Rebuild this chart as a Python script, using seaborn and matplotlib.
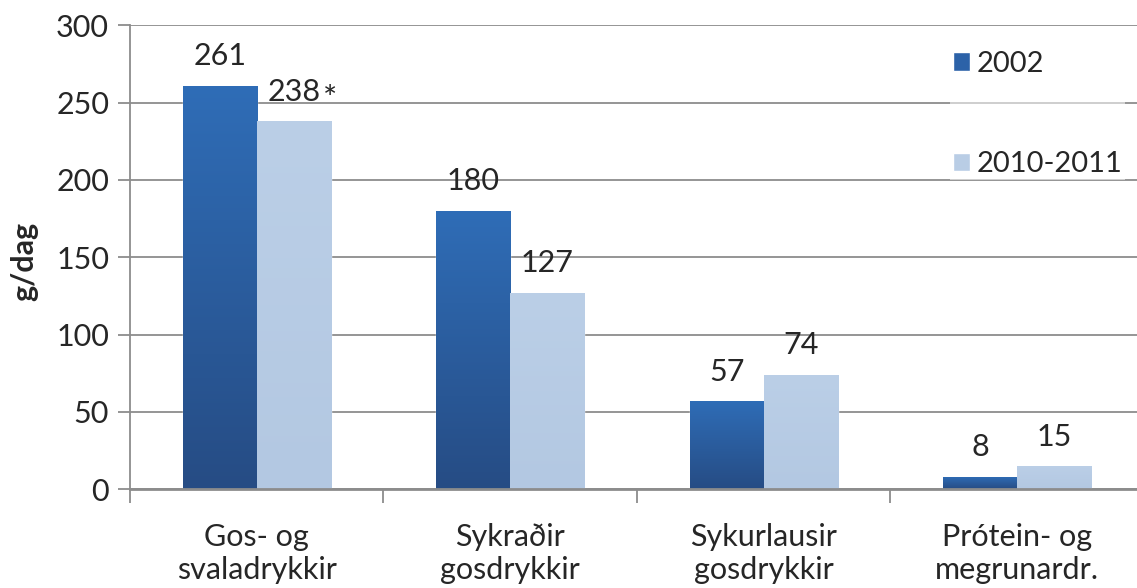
import matplotlib
matplotlib.use("Agg")
import matplotlib.pyplot as plt
import numpy as np
import pandas as pd
import seaborn as sns
from matplotlib.colors import LinearSegmentedColormap
from matplotlib.patches import Patch
from matplotlib.transforms import offset_copy

# Data
categories = ["Gos- og\nsvaladrykkir", "Sykraðir\ngosdrykkir", "Sykurlausir\ngosdrykkir", "Prótein- og\nmegrunardr."]
years = ["2002", "2010-2011"]
values_2002 = [261, 180, 57, 8]
values_2010 = [238, 127, 74, 15]

df = pd.DataFrame({
    "cat": categories * 2,
    "year": [years[0]] * 4 + [years[1]] * 4,
    "value": values_2002 + values_2010,
})

sns.set_style("white")
plt.rcParams["font.family"] = ["Lato", "DejaVu Sans"]
FS = 22

fig = plt.figure(figsize=(11.37, 5.88), dpi=100)
ax = fig.add_axes([0.1143, 0.168, 0.8918, 0.789])

palette = {"2002": "#2C62A8", "2010-2011": "#B9CDE5"}
sns.barplot(data=df, x="cat", y="value", hue="year", palette=palette,
            width=0.585, gap=0, ax=ax, legend=False, saturation=1)

# Gradient fill for the bars, clipped to each rectangle
grad_dark = LinearSegmentedColormap.from_list("dk", ["#264C84", "#2F6DB7"])
grad_light = LinearSegmentedColormap.from_list("lt", ["#B3C8E2", "#BBCFE7"])
grad = np.linspace(0, 1, 256).reshape(-1, 1)
for i, p in enumerate(ax.patches):
    cmap = grad_dark if i < 4 else grad_light
    x0, y0 = p.get_x(), p.get_y()
    w, h = p.get_width(), p.get_height()
    im = ax.imshow(grad, cmap=cmap, aspect="auto", origin="lower",
                   extent=[x0, x0 + w, y0, y0 + h], zorder=p.get_zorder() + 0.1)
    im.set_clip_path(p)

ax.set_xlim(-0.5, 3.5)
ax.set_ylim(0, 300)
ax.set_yticks(range(0, 301, 50))
ax.yaxis.grid(True, color="#8C8C8C", linewidth=1.3)
ax.set_axisbelow(True)

for s in ["top", "right"]:
    ax.spines[s].set_visible(False)
ax.spines["left"].set_color("#8C8C8C")
ax.spines["bottom"].set_color("#8C8C8C")
ax.spines["left"].set_linewidth(1.3)
ax.spines["bottom"].set_linewidth(2)

ax.tick_params(axis="y", labelsize=FS, length=9, color="#8C8C8C", width=1.3, pad=6, left=True)
ax.tick_params(axis="x", labelsize=FS, length=0, pad=24)
ax.set_xticks(range(4))
ax.set_xticklabels(categories, linespacing=1.25)
ax.set_xticks([-0.5, 0.5, 1.5, 2.5], minor=True)
ax.tick_params(axis="x", which="minor", length=10, color="#8C8C8C", width=1.3, bottom=True)
ax.set_xlabel("")
ax.set_ylabel("g/dag", fontsize=FS, fontweight="bold")
ax.yaxis.set_label_coords(-0.09, 0.49)

# Value labels
offset = 0.585 / 4
for i in range(4):
    ax.text(i - offset, values_2002[i] + 10, str(values_2002[i]),
            ha="center", va="bottom", fontsize=FS)
    ax.text(i + offset, values_2010[i] + 10, str(values_2010[i]),
            ha="center", va="bottom", fontsize=FS)
star_tr = offset_copy(ax.transData, fig=fig, x=0, y=-7, units="points")
ax.text(0 + offset + 0.115, values_2010[0] + 10, "*", ha="left", va="bottom",
        fontsize=FS + 2, transform=star_tr)

# Legend
handles = [Patch(facecolor="#2C62A8"), Patch(facecolor="#B9CDE5")]
leg = ax.legend(handles, years, loc="upper left", bbox_to_anchor=(950 / 1137, 1 - 48 / 588),
                bbox_transform=fig.transFigure, frameon=True, fontsize=21,
                handlelength=0.6, handleheight=0.6, handletextpad=0.2,
                labelspacing=2.55, borderpad=0.1, borderaxespad=0, framealpha=0.55)
leg.get_frame().set_facecolor("white")
leg.get_frame().set_edgecolor("none")
leg.get_frame().set_boxstyle("square", pad=0)

fig.savefig("out.png", dpi=100)
